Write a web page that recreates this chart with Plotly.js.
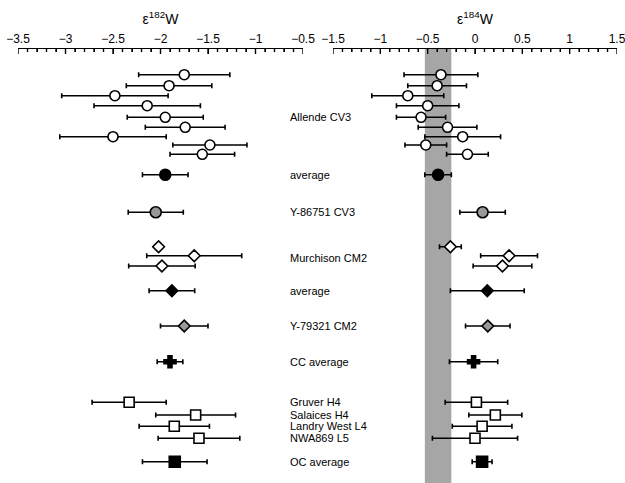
<!DOCTYPE html>
<html>
<head>
<meta charset="utf-8">
<script src="https://cdn.plot.ly/plotly-3.0.1.min.js"></script>
<style>html,body{margin:0;padding:0;background:#fff;}#chart{width:625px;height:483px;}</style>
</head>
<body>
<div id="chart"></div>
<script>
// ---------------- data ----------------
const groupLabels = ['Allende CV3', 'average', 'Y-86751 CV3', 'Murchison CM2', 'average',
                     'Y-79321 CM2', 'CC average', 'Gruver H4', 'Salaices H4', 'Landry West L4',
                     'NWA869 L5', 'OC average'];

// Allende CV3 (9 analyses)
const allendeW182 = [-1.75, -1.91, -2.48, -2.14, -1.95, -1.74, -2.50, -1.48, -1.56];
const allendeW182Err = [0.48, 0.45, 0.56, 0.56, 0.40, 0.42, 0.56, 0.39, 0.34];
const allendeW184 = [-0.36, -0.40, -0.71, -0.50, -0.57, -0.29, -0.13, -0.52, -0.08];
const allendeW184Err = [0.39, 0.31, 0.38, 0.33, 0.26, 0.31, 0.40, 0.22, 0.22];

const allendeAvgW182 = [-1.95], allendeAvgW182Err = [0.24];
const allendeAvgW184 = [-0.39], allendeAvgW184Err = [0.14];

const y86751W182 = [-2.05], y86751W182Err = [0.29];
const y86751W184 = [0.08], y86751W184Err = [0.24];

const murchisonW182 = [-2.02, -1.645, -1.985];
const murchisonW182Err = [0.03, 0.50, 0.35];
const murchisonW184 = [-0.26, 0.36, 0.29];
const murchisonW184Err = [0.115, 0.30, 0.31];

const murchisonAvgW182 = [-1.88], murchisonAvgW182Err = [0.24];
const murchisonAvgW184 = [0.13], murchisonAvgW184Err = [0.39];

const y79321W182 = [-1.75], y79321W182Err = [0.25];
const y79321W184 = [0.135], y79321W184Err = [0.235];

const ccAvgW182 = [-1.90], ccAvgW182Err = [0.135];
const ccAvgW184 = [-0.015], ccAvgW184Err = [0.255];

// ordinary chondrites: Gruver H4, Salaices H4, Landry West L4, NWA869 L5
const ocW182 = [-2.33, -1.63, -1.855, -1.595];
const ocW182Err = [0.39, 0.42, 0.37, 0.43];
const ocW184 = [0.015, 0.215, 0.075, 0.00];
const ocW184Err = [0.33, 0.28, 0.315, 0.45];

const ocAvgW182 = [-1.85], ocAvgW182Err = [0.34];
const ocAvgW184 = [0.075], ocAvgW184Err = [0.105];

// ---------------- layout of rows (vertical slots) ----------------
const rowsAllende = [25.7, 36.7, 46.7, 56.7, 68.3, 78.3, 87.7, 96, 105.3];
const rowsAllendeAvg = [125.7];
const rowsY86751 = [163.3];
const rowsMurchison = [197.7, 206.7, 217];
const rowsMurchisonAvg = [241.7];
const rowsY79321 = [277];
const rowsCCAvg = [312.7];
const rowsOC = [353.3, 366, 377.3, 389.3];
const rowsOCAvg = [412.7];
const labelRows = [68.3, 125.7, 163.3, 209, 241.7, 277, 312.7, 353.3, 366, 377.3, 389.3, 412.7];

// ---------------- traces ----------------
const BLACK = '#000000';
function series(xv, xe, yv, sym, size, fill, xa) {
  return {
    type: 'scatter', mode: 'markers', x: xv, y: yv, xaxis: xa, yaxis: 'y',
    cliponaxis: false, showlegend: false, hoverinfo: 'skip',
    error_x: {type: 'data', array: xe, visible: true, color: BLACK, thickness: 1.6, width: 2.5},
    marker: {symbol: sym, size: size, color: fill, line: {color: BLACK, width: 1.6}}
  };
}
function panel(xa, d) {
  return [
    series(d.allende, d.allendeErr, rowsAllende, 'circle', 10, '#ffffff', xa),
    series(d.allendeAvg, d.allendeAvgErr, rowsAllendeAvg, 'circle', 11, BLACK, xa),
    series(d.y867, d.y867Err, rowsY86751, 'circle', 11, '#999999', xa),
    series(d.murch, d.murchErr, rowsMurchison, 'diamond', 9, '#ffffff', xa),
    series(d.murchAvg, d.murchAvgErr, rowsMurchisonAvg, 'diamond', 9, BLACK, xa),
    series(d.y793, d.y793Err, rowsY79321, 'diamond', 9, '#999999', xa),
    series(d.cc, d.ccErr, rowsCCAvg, 'cross', 10, BLACK, xa),
    series(d.oc, d.ocErr, rowsOC, 'square', 10, '#ffffff', xa),
    series(d.ocAvg, d.ocAvgErr, rowsOCAvg, 'square', 11, BLACK, xa)
  ];
}
const traces = panel('x', {
  allende: allendeW182, allendeErr: allendeW182Err,
  allendeAvg: allendeAvgW182, allendeAvgErr: allendeAvgW182Err,
  y867: y86751W182, y867Err: y86751W182Err,
  murch: murchisonW182, murchErr: murchisonW182Err,
  murchAvg: murchisonAvgW182, murchAvgErr: murchisonAvgW182Err,
  y793: y79321W182, y793Err: y79321W182Err,
  cc: ccAvgW182, ccErr: ccAvgW182Err,
  oc: ocW182, ocErr: ocW182Err,
  ocAvg: ocAvgW182, ocAvgErr: ocAvgW182Err
}).concat(panel('x2', {
  allende: allendeW184, allendeErr: allendeW184Err,
  allendeAvg: allendeAvgW184, allendeAvgErr: allendeAvgW184Err,
  y867: y86751W184, y867Err: y86751W184Err,
  murch: murchisonW184, murchErr: murchisonW184Err,
  murchAvg: murchisonAvgW184, murchAvgErr: murchisonAvgW184Err,
  y793: y79321W184, y793Err: y79321W184Err,
  cc: ccAvgW184, ccErr: ccAvgW184Err,
  oc: ocW184, ocErr: ocW184Err,
  ocAvg: ocAvgW184, ocAvgErr: ocAvgW184Err
}));

const FONT = 'Liberation Sans, Arial, Helvetica, sans-serif';
const W = 625, H = 483, TOP = 49;
const LEFT_DOMAIN = [18 / W, 303 / W], LEFT_RANGE = [-3.5, -0.5];
const RIGHT_DOMAIN = [333 / W, 617 / W], RIGHT_RANGE = [-1.5, 1.5];

// comb of tick marks hanging below each top axis line, drawn as one-sided error bars
function tickComb(range, xa) {
  const xs = [], lens = [];
  const n = Math.round((range[1] - range[0]) / 0.1);
  for (let i = 0; i <= n; i++) {
    xs.push(+(range[0] + i * 0.1).toFixed(2));
    lens.push(i % 5 === 0 ? 5 : 3);
  }
  return {
    type: 'scatter', mode: 'markers', x: xs, y: xs.map(() => 0), xaxis: xa, yaxis: 'y',
    cliponaxis: false, showlegend: false, hoverinfo: 'skip',
    marker: {size: 1, color: BLACK, opacity: 0},
    error_y: {type: 'data', symmetric: false, array: lens, arrayminus: xs.map(() => 0),
              visible: true, color: BLACK, thickness: 1.4, width: 0}
  };
}
traces.push(tickComb(LEFT_RANGE, 'x'), tickComb(RIGHT_RANGE, 'x2'));

function xAxis(domain, range, title) {
  return {
    domain: domain, range: range, side: 'top', anchor: 'y',
    showgrid: false, zeroline: false, showline: true, linecolor: BLACK, linewidth: 1.3,
    ticks: 'inside', ticklen: 5, tickwidth: 1.4, tickcolor: BLACK,
    tickmode: 'linear', dtick: 0.5, tick0: 0, ticklabeloverflow: 'allow',
    minor: {dtick: 0.1, tick0: 0, ticks: 'inside', ticklen: 3, tickwidth: 1.2, tickcolor: BLACK, showgrid: false},
    tickfont: {family: FONT, size: 12, color: BLACK},
    title: {text: title, font: {family: FONT, size: 14, color: BLACK}, standoff: 4},
    fixedrange: true
  };
}

// shaded band = Allende average epsilon184W +/- error
const bandLo = allendeAvgW184[0] - allendeAvgW184Err[0];
const bandHi = allendeAvgW184[0] + allendeAvgW184Err[0];

const layout = {
  width: W, height: H,
  margin: {l: 0, r: 0, t: TOP, b: 0, pad: 0},
  paper_bgcolor: '#ffffff', plot_bgcolor: '#ffffff',
  font: {family: FONT, color: BLACK},
  xaxis: xAxis(LEFT_DOMAIN, LEFT_RANGE, 'ε<sup>182</sup>W'),
  xaxis2: xAxis(RIGHT_DOMAIN, RIGHT_RANGE, 'ε<sup>184</sup>W'),
  yaxis: {range: [H - TOP, 0], visible: true, showticklabels: false, showline: false, ticks: '',
          showgrid: false, zeroline: false, fixedrange: true},
  shapes: [{
    type: 'rect', xref: 'x2', yref: 'paper', x0: bandLo, x1: bandHi, y0: 0, y1: 1,
    fillcolor: '#a6a6a6', line: {width: 0}, layer: 'below'
  }],
  annotations: groupLabels.map((t, i) => ({
    text: t, xref: 'paper', yref: 'y', x: 288 / W, y: labelRows[i],
    xanchor: 'left', yanchor: 'middle', showarrow: false,
    font: {family: FONT, size: 11, color: BLACK}
  }))
};

Plotly.newPlot('chart', traces, layout, {displayModeBar: false});
</script>
</body>
</html>
